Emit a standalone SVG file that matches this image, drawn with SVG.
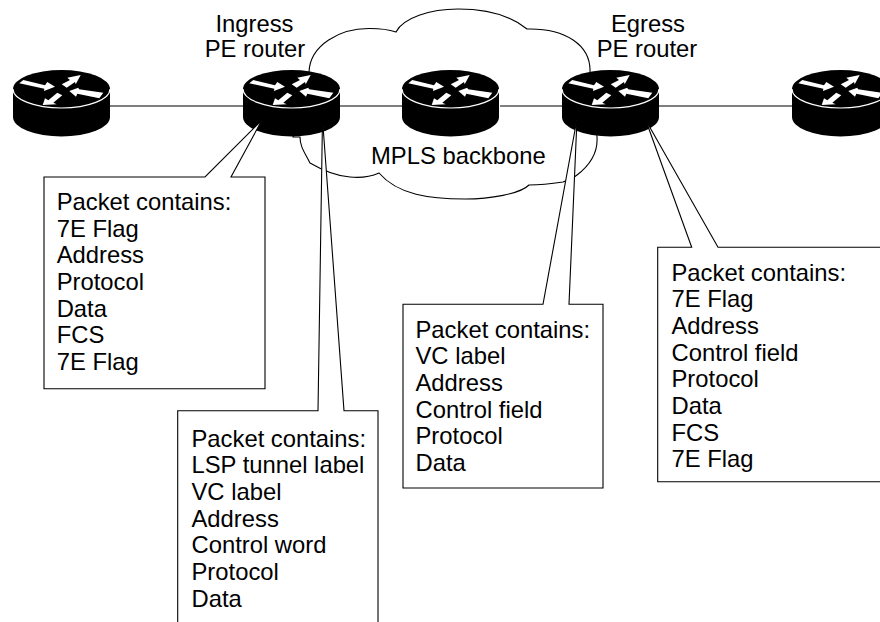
<svg xmlns="http://www.w3.org/2000/svg" xmlns:xlink="http://www.w3.org/1999/xlink" width="880" height="622" viewBox="0 0 880 622">
<style>
text{font-family:"Liberation Sans",Arial,sans-serif;font-size:23.8px;fill:#000}
.ol{fill:#fff;stroke:#000;stroke-width:1.1}
.ln{fill:none;stroke:#000;stroke-width:1.1}
.mid{text-anchor:middle}
</style>
<defs>
<g id="router">
<path d="M13 89V117A48.5 19.5 0 0 0 110 117V89Z" fill="#000"/>
<ellipse cx="61.5" cy="89" rx="48.5" ry="19" fill="#000"/>
<path d="M13 89A48.5 19 0 0 0 110 89" fill="none" stroke="#fff" stroke-width="1.2"/>
<g fill="#fff">
<polygon points="19.3,83.3 23.3,80 45,85.3 47.3,82 55,86.7 44,91 44.3,88.7"/>
<polygon points="80.7,75 67.3,77.7 70,80 61.7,84.3 66.7,87.7 75,82 75.7,84.3"/>
<polygon points="69.3,91 78.3,87.7 79,89.3 103.3,92.7 99.3,98.3 77.3,93.7 76,96.7"/>
<polygon points="42.7,105 45,98.3 48.3,100.3 57.3,92.7 62.3,95.3 53.3,102.7 56.7,104.3"/>
</g>
</g>
</defs>
<path id="cloud" class="ol" d="M309 72C310 45 340 28 370 28.5C380 28.5 390 30 396 32C403 18 430 9 458 9C485 9 510 15 527 29C565 28 591 45 590 72L597 137C598 152 590 165 577 175C572 179 566 181 563 182C550 184 540 185 529 185C520 194 490 199 465 199C430 199 398 195 379 173C370 177 360 178 350 177C335 176 322 170 310 163C305 153 300 147 300 137L293 137Z"/>
<g id="connectors">
<line class="ln" x1="110" y1="106" x2="243" y2="106"/>
<line class="ln" x1="340" y1="106" x2="402" y2="106"/>
<line class="ln" x1="500" y1="106" x2="562" y2="106"/>
<line class="ln" x1="659" y1="106" x2="792" y2="106"/>
</g>
<g id="router-1"><use xlink:href="#router" href="#router"/></g>
<g id="router-ingress"><use xlink:href="#router" href="#router" x="230"/></g>
<g id="router-core"><use xlink:href="#router" href="#router" x="389"/></g>
<g id="router-egress"><use xlink:href="#router" href="#router" x="549"/></g>
<g id="router-5"><use xlink:href="#router" href="#router" x="779"/></g>
<g id="label-ingress"><text class="mid" x="254.5" y="32">Ingress</text><text class="mid" x="255" y="57">PE router</text></g>
<g id="label-egress"><text class="mid" x="648" y="32">Egress</text><text class="mid" x="647" y="57">PE router</text></g>
<g id="label-mpls"><text x="371" y="163.5">MPLS backbone</text></g>
<g id="callout-1">
<path class="ol" d="M44 177H205L262 120L231 177H265V388.7H44Z"/>
<text x="56.7" y="210">Packet contains:</text>
<text x="56.7" y="236.7">7E Flag</text>
<text x="56.7" y="263.3">Address</text>
<text x="56.7" y="290">Protocol</text>
<text x="56.7" y="316.7">Data</text>
<text x="56.7" y="343.3">FCS</text>
<text x="56.7" y="370">7E Flag</text>
</g>
<g id="callout-2">
<path class="ol" d="M177.7 410.7H318L322.5 119L344 410.7H378V640H177.7Z"/>
<text x="191.5" y="446.7">Packet contains:</text>
<text x="191.5" y="473.4">LSP tunnel label</text>
<text x="191.5" y="500">VC label</text>
<text x="191.5" y="526.7">Address</text>
<text x="191.5" y="553.4">Control word</text>
<text x="191.5" y="580">Protocol</text>
<text x="191.5" y="606.7">Data</text>
</g>
<g id="callout-3">
<path class="ol" d="M403 304.3H543L577 119L569 304.3H603V488H403Z"/>
<text x="415.5" y="337.7">Packet contains:</text>
<text x="415.5" y="364.4">VC label</text>
<text x="415.5" y="391">Address</text>
<text x="415.5" y="417.7">Control field</text>
<text x="415.5" y="444.4">Protocol</text>
<text x="415.5" y="471">Data</text>
</g>
<g id="callout-4">
<path class="ol" d="M657.7 247.3H691.7L645.7 120L718 247.3H890V481.7H657.7Z"/>
<text x="671.5" y="280.7">Packet contains:</text>
<text x="671.5" y="307.4">7E Flag</text>
<text x="671.5" y="334">Address</text>
<text x="671.5" y="360.7">Control field</text>
<text x="671.5" y="387.4">Protocol</text>
<text x="671.5" y="414">Data</text>
<text x="671.5" y="440.7">FCS</text>
<text x="671.5" y="467.4">7E Flag</text>
</g>
</svg>
